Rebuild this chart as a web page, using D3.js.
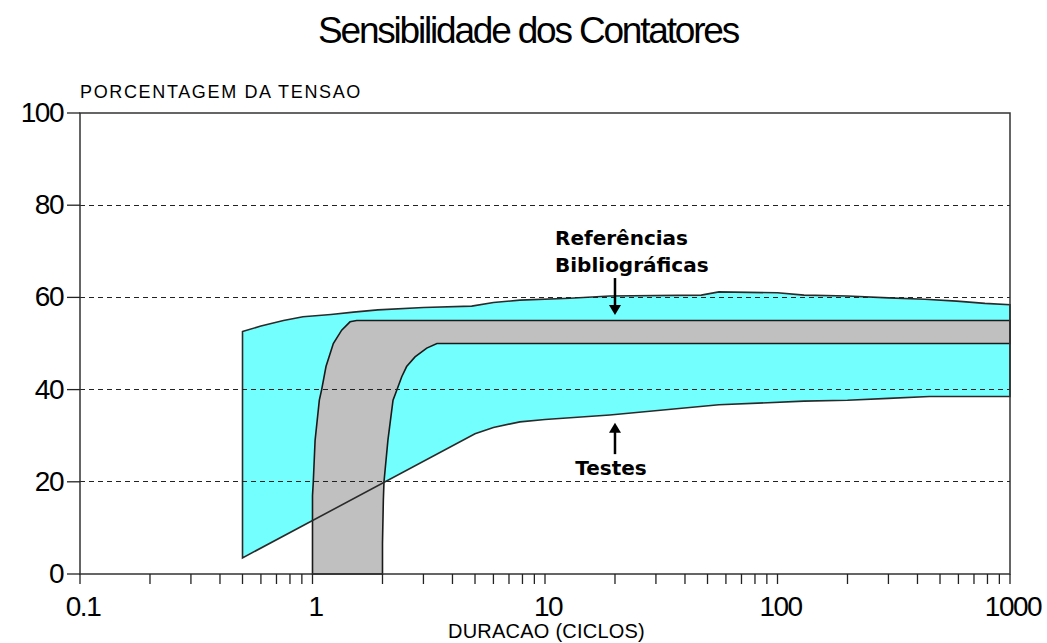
<!DOCTYPE html>
<html><head><meta charset="utf-8">
<script src="https://cdn.jsdelivr.net/npm/d3@7"></script>
<style>body{margin:0;background:#fff}</style>
</head><body><svg id="c" width="1047" height="643"></svg>
<script>
// ---------- text ----------
const titleText = "Sensibilidade dos Contatores";
const yTitleText = "PORCENTAGEM DA TENSAO";
const xTitleText = "DURACAO (CICLOS)";
const refLabel = ["Referências", "Bibliográficas"];
const testLabel = "Testes";

// ---------- ticks ----------
const xTickValues = [0.1, 1, 10, 100, 1000];
const xTickLabels = ["0.1", "1", "10", "100", "1000"];
const yTickValues = [0, 20, 40, 60, 80, 100];
const gridValues = [20, 40, 60, 80];

// ---------- Referências Bibliográficas band (cyan) ----------
const refTopX = [0.5, 0.6, 0.75, 0.91, 1.2, 1.5, 1.91, 3, 4.84, 6, 7.8, 12.8, 19, 47, 56, 100, 130, 200, 300, 430, 590, 780, 1000];
const refTopY = [52.6, 53.8, 55.0, 55.8, 56.3, 56.8, 57.3, 57.8, 58.1, 58.9, 59.4, 59.8, 60.3, 60.5, 61.2, 61.0, 60.5, 60.3, 59.9, 59.6, 59.2, 58.7, 58.4];
const refBotX = [0.5, 5, 6, 7.8, 10, 19, 56, 130, 200, 300, 450, 1000];
const refBotY = [3.5, 30.4, 31.8, 33.0, 33.5, 34.5, 36.7, 37.5, 37.7, 38.1, 38.5, 38.5];

// ---------- Testes band (gray) ----------
const testLeftX = [1, 1, 1.008, 1.026, 1.07, 1.095, 1.143, 1.229, 1.335, 1.45, 1.549, 1000];
const testLeftY = [0, 17, 20, 29, 37.7, 40, 45, 50, 52.9, 54.7, 55, 55];
const testRightX = [2, 2, 2.017, 2.03, 2.11, 2.22, 2.31, 2.42, 2.54, 2.76, 3.1, 3.43, 1000];
const testRightY = [0, 6.7, 16, 20, 29, 37.7, 40, 42.8, 45, 47.1, 49, 50, 50];

// ---------- annotation arrows (data coords) ----------
const refArrow = {x: 20, from: 64.2, to: 56.2};
const testArrow = {x: 20, from: 26.0, to: 32.8};

const svg = d3.select("#c");
const W = 1047, H = 643;
const m = {left: 80, right: W - 1010, top: 113, bottom: H - 574};

const x = d3.scaleLog().domain([0.1, 1000]).range([m.left, W - m.right]);
const y = d3.scaleLinear().domain([0, 100]).range([H - m.bottom, m.top]);

const FONT = "'Liberation Sans', Arial, sans-serif";

function fit(sel, w) {
  const n = sel.text().length;
  const L = sel.node().getComputedTextLength();
  sel.attr("letter-spacing", (w - L) / n);
}

const line = d3.line().x(d => x(d[0])).y(d => y(d[1]));

// cyan polygon
const refPts = refTopX.map((v, i) => [v, refTopY[i]])
  .concat(refBotX.map((v, i) => [v, refBotY[i]]).reverse());
svg.append("path").attr("d", line(refPts) + "Z")
  .attr("fill", "#74ffff").attr("stroke", "none");

// gray polygon
const testPts = testLeftX.map((v, i) => [v, testLeftY[i]])
  .concat(testRightX.map((v, i) => [v, testRightY[i]]).reverse());
svg.append("path").attr("d", line(testPts) + "Z")
  .attr("fill", "#c0c0c0").attr("stroke", "#1a1a1a").attr("stroke-width", 1.6);

// cyan outline on top
svg.append("path").attr("d", line(refPts) + "Z")
  .attr("fill", "none").attr("stroke", "#2a2a2a").attr("stroke-width", 1.6);

// grid
svg.append("g").selectAll("line").data(gridValues).join("line")
  .attr("x1", x(0.1)).attr("x2", x(1000))
  .attr("y1", d => y(d)).attr("y2", d => y(d))
  .attr("stroke", "#222").attr("stroke-width", 1)
  .attr("stroke-dasharray", "5,4").attr("shape-rendering", "crispEdges");

// frame
const frame = svg.append("g").attr("stroke", "#333").attr("stroke-width", 1.5).attr("fill", "none");
frame.append("path").attr("d", `M${x(0.1)},${y(100)}H${x(1000)}V${y(0)}H${x(0.1)}Z`);

// x ticks
const minor = [];
for (let e = -1; e < 3; e++) for (let k = 1; k < 10; k++) minor.push(k * Math.pow(10, e));
minor.push(1000);
svg.append("g").selectAll("line").data(minor).join("line")
  .attr("x1", d => x(d)).attr("x2", d => x(d))
  .attr("y1", y(0)).attr("y2", y(0) + 10)
  .attr("stroke", "#222").attr("stroke-width", 1.3);
svg.append("g").selectAll("text").data(xTickValues).join("text")
  .attr("x", d => x(d) + 3).attr("y", y(0) + 42)
  .attr("text-anchor", "middle").attr("font-family", FONT).attr("font-size", 28)
  .attr("letter-spacing", -1.5)
  .text((d, i) => xTickLabels[i]);

// y ticks
svg.append("g").selectAll("line").data(yTickValues).join("line")
  .attr("x1", x(0.1) - 13).attr("x2", x(0.1))
  .attr("y1", d => y(d)).attr("y2", d => y(d))
  .attr("stroke", "#222").attr("stroke-width", 1.3);
svg.append("g").selectAll("text").data(yTickValues).join("text")
  .attr("x", x(0.1) - 17).attr("y", d => y(d) + 9)
  .attr("text-anchor", "end").attr("font-family", FONT).attr("font-size", 28)
  .attr("letter-spacing", -1.5)
  .text(d => d);

// titles
const t = svg.append("text").attr("x", 318).attr("y", 43)
  .attr("font-family", FONT).attr("font-size", 37).text(titleText);
fit(t, 420);
const yt = svg.append("text").attr("x", 80).attr("y", 98)
  .attr("font-family", FONT).attr("font-size", 18).text(yTitleText);
fit(yt, 282);
const xt = svg.append("text").attr("x", 448).attr("y", 638)
  .attr("font-family", FONT).attr("font-size", 20).text(xTitleText);
fit(xt, 197);

// annotations
const BF = "'DejaVu Sans', Verdana, sans-serif";
svg.append("text").attr("x", 555).attr("y", 245).attr("font-family", BF)
  .attr("font-weight", "bold").attr("font-size", 20).text(refLabel[0]);
svg.append("text").attr("x", 555).attr("y", 272).attr("font-family", BF)
  .attr("font-weight", "bold").attr("font-size", 20).text(refLabel[1]);
svg.append("text").attr("x", 611).attr("y", 475).attr("font-family", BF)
  .attr("text-anchor", "middle")
  .attr("font-weight", "bold").attr("font-size", 20).text(testLabel);

function arrow(a) {
  const xa = x(a.x), y0 = y(a.from), y1 = y(a.to);
  const dir = y1 > y0 ? 1 : -1;
  svg.append("line").attr("x1", xa).attr("x2", xa).attr("y1", y0).attr("y2", y1 - dir * 6)
    .attr("stroke", "#000").attr("stroke-width", 2.5);
  svg.append("path")
    .attr("d", `M${xa - 6},${y1 - dir * 10}L${xa + 6},${y1 - dir * 10}L${xa},${y1}Z`)
    .attr("fill", "#000");
}
arrow(refArrow);
arrow(testArrow);
</script>
</body></html>
